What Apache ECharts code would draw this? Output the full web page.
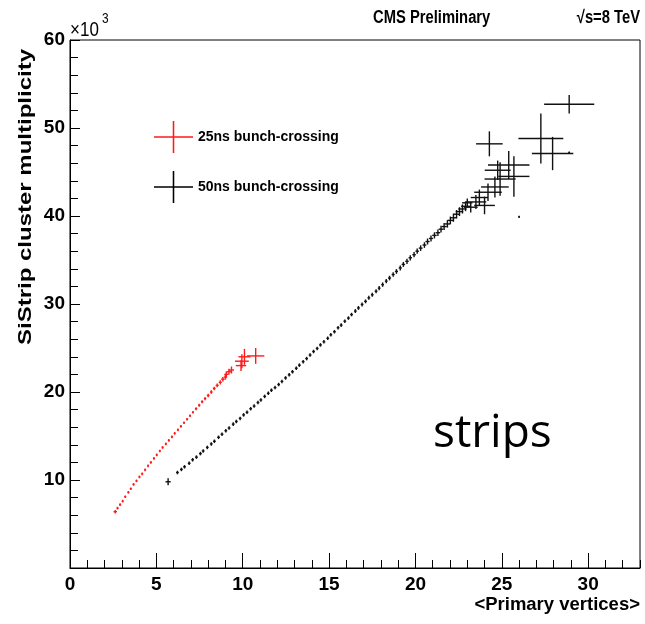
<!DOCTYPE html>
<html>
<head>
<meta charset="utf-8">
<script src="https://cdn.jsdelivr.net/npm/echarts@6/dist/echarts.min.js"></script>
<style>html,body{margin:0;padding:0;background:#fff}#c{width:645px;height:624px}</style>
</head>
<body>
<div id="c"></div>
<script>
// ---- data (y in units of 10^3 clusters) ----
// 25ns bunch-crossing: x, y, x-error, y-error
const red_x  = [2.62,2.75,2.90,3.05,3.20,3.38,3.52,3.68,3.85,4.02,4.18,4.35,4.52,4.68,4.86,5.02,5.20,5.36,5.55,5.72,5.90,6.06,6.25,6.42,6.60,6.78,6.95,7.12,7.30,7.48,7.65,7.82,8.00,8.18,8.35,8.52,8.70,8.85,9.00,9.05,9.20,9.35,9.90,9.95,10.10,10.75];
const red_y  = [6.4,6.8,7.2,7.6,8.1,8.6,9.0,9.5,9.9,10.35,10.7,11.15,11.6,12.0,12.45,12.85,13.3,13.7,14.1,14.5,14.9,15.3,15.7,16.1,16.5,16.9,17.3,17.7,18.1,18.5,18.9,19.25,19.6,20.0,20.4,20.75,21.1,21.45,21.7,22.0,22.3,22.5,23.0,23.5,24.0,24.1];
const red_ex = [0.1,0.06,0.06,0.06,0.06,0.06,0.06,0.06,0.06,0.06,0.06,0.06,0.06,0.06,0.06,0.06,0.06,0.06,0.06,0.06,0.06,0.06,0.06,0.06,0.06,0.06,0.06,0.06,0.07,0.07,0.07,0.07,0.08,0.08,0.08,0.09,0.09,0.1,0.1,0.12,0.12,0.15,0.3,0.4,0.35,0.5];
const red_ey = [0.2,0.15,0.15,0.15,0.15,0.15,0.15,0.15,0.15,0.15,0.15,0.15,0.15,0.15,0.15,0.15,0.15,0.15,0.15,0.15,0.15,0.15,0.15,0.15,0.15,0.15,0.15,0.15,0.17,0.17,0.17,0.18,0.2,0.2,0.2,0.22,0.24,0.26,0.3,0.35,0.35,0.4,0.6,0.8,0.9,0.9];

// 50ns bunch-crossing: x, y, x-error, y-error
const blk_x  = [5.68,6.22,6.45,6.63,6.90,7.10,7.32,7.55,7.71,7.95,8.18,8.36,8.60,8.80,9.02,9.21,9.45,9.63,9.85,10.05,10.25,10.46,10.66,10.88,11.05,11.27,11.48,11.66,11.87,12.08,12.27,12.48,12.69,12.88,13.10,13.28,13.50,13.70,13.90,14.10,14.31,14.50,14.70,14.92,15.10,15.31,15.52,15.70,15.91,16.12,16.30,16.52,16.70,16.91,17.11,17.30,17.50,17.72,17.90,18.10,18.31,18.50,18.71,18.90,19.12,19.30,19.51,19.70,19.92,20.10,20.30,20.52,20.70,20.90,21.10,21.30,21.48,21.66,21.85,22.02,22.20,22.38,22.55,22.72,22.90,23.00,23.20,23.50,23.70,24.00,24.20,24.60,24.76,24.90,25.40,25.70,24.28,27.26,27.94,28.90,26.00,28.90];
const blk_y  = [9.8,10.85,11.2,11.5,11.9,12.3,12.6,13.0,13.3,13.7,14.1,14.4,14.85,15.2,15.6,15.9,16.35,16.65,17.0,17.4,17.7,18.1,18.4,18.8,19.1,19.5,19.85,20.2,20.5,20.85,21.2,21.6,21.95,22.3,22.7,23.05,23.45,23.8,24.2,24.6,24.95,25.35,25.7,26.1,26.5,26.85,27.3,27.6,28.05,28.4,28.8,29.2,29.55,29.95,30.3,30.7,31.05,31.45,31.8,32.2,32.6,32.95,33.35,33.7,34.1,34.5,34.85,35.25,35.6,36.0,36.35,36.7,37.1,37.45,37.8,38.1,38.5,38.8,39.1,39.5,39.8,40.2,40.5,40.8,41.1,41.5,41.0,41.6,42.1,41.2,42.7,43.3,45.2,44.2,45.8,44.5,48.2,48.8,47.1,52.7,39.9,47.2];
const blk_ex = [0.15,0.08,0.08,0.08,0.08,0.08,0.08,0.08,0.08,0.08,0.08,0.08,0.08,0.08,0.08,0.08,0.08,0.08,0.08,0.08,0.08,0.08,0.08,0.08,0.08,0.08,0.08,0.08,0.08,0.08,0.08,0.08,0.08,0.08,0.08,0.08,0.08,0.08,0.08,0.08,0.08,0.08,0.08,0.08,0.08,0.08,0.08,0.08,0.08,0.08,0.08,0.08,0.08,0.08,0.08,0.08,0.08,0.08,0.08,0.08,0.08,0.09,0.09,0.09,0.09,0.1,0.1,0.1,0.1,0.1,0.11,0.11,0.12,0.12,0.13,0.13,0.14,0.15,0.16,0.17,0.18,0.2,0.22,0.24,0.26,0.3,0.4,0.6,0.5,0.6,0.8,0.8,0.75,0.9,1.2,0.9,0.77,1.3,1.2,1.45,0.05,0.05];
const blk_ey = [0.4,0.2,0.2,0.2,0.2,0.2,0.2,0.2,0.2,0.2,0.2,0.2,0.2,0.2,0.2,0.2,0.2,0.2,0.2,0.2,0.2,0.2,0.2,0.2,0.2,0.2,0.2,0.2,0.2,0.2,0.2,0.2,0.2,0.2,0.2,0.2,0.2,0.2,0.2,0.2,0.2,0.2,0.2,0.2,0.2,0.2,0.2,0.2,0.2,0.2,0.2,0.22,0.22,0.22,0.22,0.23,0.23,0.24,0.24,0.25,0.25,0.26,0.26,0.27,0.28,0.28,0.3,0.3,0.3,0.3,0.32,0.32,0.34,0.34,0.35,0.36,0.38,0.4,0.42,0.44,0.46,0.48,0.5,0.52,0.55,0.5,0.6,0.8,0.9,1.0,1.0,1.2,1.1,1.9,1.6,2.3,1.42,2.84,1.89,1.04,0.12,0.12];

const seriesNames = ['25ns bunch-crossing','50ns bunch-crossing'];
const FONT = '"Liberation Sans",Arial,Helvetica,sans-serif';
const CROSS = 'path://M0,4.8H10V5.2H0Z M4.8,0H5.2V10H4.8Z';

function rows(xs, ys, exs, eys){ return xs.map((v,i)=>[v, ys[i], exs[i], eys[i]]); }

function makeRender(color){
  return function(params, api){
    const x=api.value(0), y=api.value(1), ex=api.value(2), ey=api.value(3);
    const l=api.coord([x-ex,y]), r=api.coord([x+ex,y]);
    const b=api.coord([x,y-ey]), t=api.coord([x,y+ey]);
    return {type:'group', children:[
      {type:'line', shape:{x1:l[0],y1:l[1],x2:r[0],y2:r[1]}, style:{stroke:color,lineWidth:1.4}},
      {type:'line', shape:{x1:b[0],y1:b[1],x2:t[0],y2:t[1]}, style:{stroke:color,lineWidth:1.4}}
    ]};
  };
}

const chart = echarts.init(document.getElementById('c'), null, {renderer:'canvas'});
const labelStyle = {fontFamily:FONT, fontWeight:'bold', fontSize:19, color:'#000'};
chart.setOption({
  animation:false,
  backgroundColor:'#fff',
  grid:{left:70, right:5, top:40, bottom:56, containLabel:false, outerBoundsMode:'none',
        show:true, borderColor:'#000', borderWidth:1, backgroundColor:'transparent'},
  xAxis:[{
    type:'value', min:0, max:33, interval:5,
    axisLine:{show:true, onZero:false, lineStyle:{color:'#000', width:1}},
    axisTick:{show:true, inside:true, length:15, lineStyle:{color:'#000'}},
    minorTick:{show:false},
    splitLine:{show:false},
    axisLabel:Object.assign({margin:7, showMaxLabel:false}, labelStyle),
    name:'<Primary vertices>', nameLocation:'end', nameGap:0,
    nameTextStyle:{fontFamily:FONT, fontWeight:'bold', fontSize:18.5, color:'#000', align:'right', verticalAlign:'top', padding:[27,0,0,0]}
  },{
    type:'value', min:0, max:33, interval:1, position:'bottom',
    axisLine:{show:false}, splitLine:{show:false}, axisLabel:{show:false},
    axisTick:{show:true, inside:true, length:8, lineStyle:{color:'#000'}}
  }],
  yAxis:{
    type:'value', min:0, max:60, interval:10,
    axisLine:{show:true, onZero:false, lineStyle:{color:'#000', width:1}},
    axisTick:{show:true, inside:true, length:10, lineStyle:{color:'#000'}},
    minorTick:{show:true, splitNumber:5, length:8, lineStyle:{color:'#000'}},
    splitLine:{show:false},
    axisLabel:Object.assign({margin:5, showMinLabel:false}, labelStyle)
  },
  legend:{
    left:149, top:116, orient:'vertical', itemWidth:39, itemHeight:32, itemGap:18,
    symbolKeepAspect:false,
    textStyle:{fontFamily:FONT, fontWeight:'bold', fontSize:14, color:'#000'},
    data:[{name:seriesNames[0], icon:CROSS},{name:seriesNames[1], icon:CROSS}]
  },
  series:[
    {name:seriesNames[0], type:'custom', xAxisIndex:0, itemStyle:{color:'#ff1a1a'},
     renderItem:makeRender('#ff1a1a'), encode:{x:0,y:1}, data:rows(red_x,red_y,red_ex,red_ey)},
    {name:seriesNames[1], type:'custom', xAxisIndex:0, itemStyle:{color:'#000'},
     renderItem:makeRender('#111'), encode:{x:0,y:1}, data:rows(blk_x,blk_y,blk_ex,blk_ey)}
  ],
  graphic:[
    {type:'text', x:26, y:197, rotation:Math.PI/2, scaleY:0.78,
     style:{text:'SiStrip cluster multiplicity', font:'bold 24px '+FONT, fill:'#000', align:'center', verticalAlign:'middle'}},
    {type:'text', x:70, y:30, scaleX:0.85, style:{text:'×10', font:'20px '+FONT, fill:'#000', align:'left', verticalAlign:'middle'}},
    {type:'text', x:102, y:19, scaleX:0.85, style:{text:'3', font:'14px '+FONT, fill:'#000', align:'left', verticalAlign:'middle'}},
    {type:'text', x:373, y:18, scaleX:0.82, style:{text:'CMS Preliminary', font:'bold 18px '+FONT, fill:'#000', align:'left', verticalAlign:'middle'}},
    {type:'text', x:640, y:18, scaleX:0.82, style:{text:'√s=8 TeV', font:'bold 18px '+FONT, fill:'#000', align:'right', verticalAlign:'middle'}},
    {type:'text', x:433, y:434, style:{text:'strips', font:'46px "Open Sans","Noto Sans",sans-serif', fill:'#000', align:'left', verticalAlign:'middle'}}
  ]
});
</script>
</body>
</html>
